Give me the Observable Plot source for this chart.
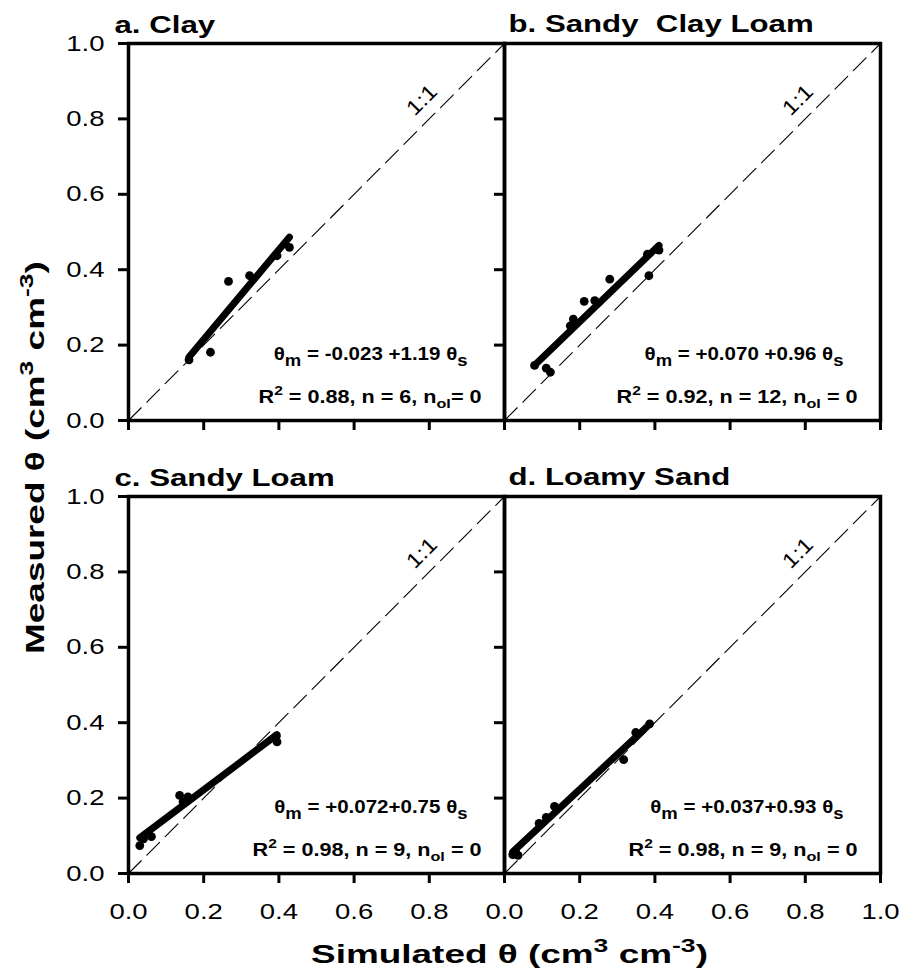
<!DOCTYPE html>
<html>
<head>
<meta charset="utf-8">
<script src="https://cdn.jsdelivr.net/npm/d3@7"></script>
<script src="https://cdn.jsdelivr.net/npm/@observablehq/plot@0.6"></script>
<style>
  html, body { margin: 0; padding: 0; background: #fff; }
  #chart svg { display: block; }
  #chart text { white-space: pre; }
</style>
</head>
<body>
<div id="chart"></div>
<script>
// ---------- data ----------
const panelNames = ["a. Clay", "b. Sandy  Clay Loam", "c. Sandy Loam", "d. Loamy Sand"];
const panelCols = [0, 1, 0, 1];
const panelRows = [0, 0, 1, 1];

const simClay = [0.161, 0.218, 0.266, 0.322, 0.395, 0.428];
const measClay = [0.161, 0.181, 0.369, 0.384, 0.437, 0.459];

const simSandyClayLoam = [0.080, 0.111, 0.122, 0.175, 0.183, 0.212, 0.240, 0.280, 0.384, 0.380, 0.405, 0.411];
const measSandyClayLoam = [0.146, 0.139, 0.128, 0.251, 0.269, 0.316, 0.318, 0.375, 0.384, 0.441, 0.455, 0.452];

const simSandyLoam = [0.030, 0.040, 0.061, 0.136, 0.145, 0.158, 0.160, 0.393, 0.395];
const measSandyLoam = [0.074, 0.092, 0.098, 0.207, 0.190, 0.203, 0.198, 0.364, 0.349];

const simLoamySand = [0.022, 0.030, 0.036, 0.092, 0.111, 0.133, 0.317, 0.349, 0.386];
const measLoamySand = [0.050, 0.056, 0.048, 0.133, 0.149, 0.178, 0.302, 0.374, 0.397];

const fitIntercepts = [-0.023, 0.070, 0.072, 0.037];
const fitSlopes = [1.19, 0.96, 0.75, 0.93];

const equationTexts = [
  "θ_{m} = -0.023 +1.19 θ_{s}",
  "θ_{m} = +0.070 +0.96 θ_{s}",
  "θ_{m} = +0.072+0.75 θ_{s}",
  "θ_{m} = +0.037+0.93 θ_{s}"
];
const statTexts = [
  "R^{2} = 0.88, n = 6, n_{ol}= 0",
  "R^{2} = 0.92, n = 12, n_{ol} = 0",
  "R^{2} = 0.98, n = 9, n_{ol} = 0",
  "R^{2} = 0.98, n = 9, n_{ol} = 0"
];

const axisTicks = [0, 0.2, 0.4, 0.6, 0.8, 1.0];
const bottomTickLabels = [[0, 0.2, 0.4, 0.6, 0.8], [0, 0.2, 0.4, 0.6, 0.8, 1.0]]; // panel c, panel d
const oneToOne = [0, 1];
const oneToOneLabel = "1:1";
const oneToOneLabelPos = [0.78, 0.85];
const xTitle = "Simulated θ (cm^{3} cm^{-3})";
const yTitle = "Measured θ (cm^{3} cm^{-3})";

// ---------- tables ----------
const simulated = [simClay, simSandyClayLoam, simSandyLoam, simLoamySand];
const measured = [measClay, measSandyClayLoam, measSandyLoam, measLoamySand];

const panels = panelNames.map((name, i) => ({
  name, col: panelCols[i], row: panelRows[i], eq: equationTexts[i], stat: statTexts[i]
}));
const points = panels.flatMap((p, i) =>
  simulated[i].map((s, j) => ({panel: p.name, col: p.col, row: p.row, sim: s, meas: measured[i][j]})));
const fits = panels.flatMap((p, i) =>
  d3.extent(simulated[i]).map(s => ({panel: p.name, col: p.col, row: p.row, sim: s, meas: fitIntercepts[i] + fitSlopes[i] * s})));
const bottomLabels = bottomTickLabels.flatMap((ticks, k) => ticks.map(v => ({col: k, row: 1, v})));

const fmt = d3.format(".1f");
const FONT = "Arial, 'Liberation Sans', Helvetica, sans-serif";

const plot = Plot.plot({
  width: 904,
  height: 976,
  marginLeft: 127,
  marginRight: 24,
  marginTop: 43,
  marginBottom: 103,
  style: {fontFamily: FONT, fontSize: "22px", color: "black", background: "white"},
  x: {domain: [0, 1]},
  y: {domain: [0, 1]},
  fx: {domain: [0, 1], paddingInner: 0, paddingOuter: 0, axis: null, label: null},
  fy: {domain: [0, 1], paddingInner: 0.168, paddingOuter: 0, axis: null, label: null},
  marks: [
    Plot.line(oneToOne, {x: d => d, y: d => d, stroke: "black", strokeWidth: 1.1, strokeDasharray: "18,8"}),
    Plot.line(fits, {x: "sim", y: "meas", z: "panel", fx: "col", fy: "row", stroke: "black", strokeWidth: 7, strokeLinecap: "round"}),
    Plot.dot(points, {x: "sim", y: "meas", fx: "col", fy: "row", r: 4.4, fill: "black", stroke: "none"}),
    Plot.text([oneToOneLabel], {x: () => oneToOneLabelPos[0], y: () => oneToOneLabelPos[1], text: d => d, rotate: -45, fontSize: 21, className: "s-oneone"}),
    Plot.frame({stroke: "black", strokeWidth: 3.5}),
    Plot.axisX({ticks: axisTicks, tickSize: 10, strokeWidth: 3, fill: "none", label: null, facetAnchor: null}),
    Plot.axisY({ticks: axisTicks, tickSize: 10, strokeWidth: 3, fill: "none", label: null, facetAnchor: null}),
    Plot.axisY({ticks: axisTicks, tickSize: 0, tickPadding: 24, tickFormat: fmt, fontSize: 22, stroke: "none", label: null, facetAnchor: "left", className: "s-tick"}),
    Plot.text(bottomLabels, {x: "v", fx: "col", fy: "row", frameAnchor: "bottom", lineAnchor: "top", dy: 30, text: d => fmt(d.v), fontSize: 22, className: "s-tick"}),
    Plot.text(panels.filter(p => p.col === 0), {fx: "col", fy: "row", frameAnchor: "top-left", textAnchor: "start", lineAnchor: "bottom", dx: -14, dy: -11, text: "name", fontSize: 24, fontWeight: "bold", className: "s-title"}),
    Plot.text(panels.filter(p => p.col === 1), {fx: "col", fy: "row", frameAnchor: "top-left", textAnchor: "start", lineAnchor: "bottom", dx: 4, dy: -12, text: "name", fontSize: 24, fontWeight: "bold", className: "s-title"}),
    Plot.text(panels, {fx: "col", fy: "row", frameAnchor: "bottom-right", textAnchor: "end", lineAnchor: "bottom", dx: -37, dy: -61, text: "eq", fontSize: 18, fontWeight: "bold", className: "s-eq"}),
    Plot.text(panels, {fx: "col", fy: "row", frameAnchor: "bottom-right", textAnchor: "end", lineAnchor: "bottom", dx: -23, dy: -18, text: "stat", fontSize: 18, fontWeight: "bold", className: "s-stat"}),
    Plot.text([{col: 0, row: 1, t: xTitle}], {fx: "col", fy: "row", frameAnchor: "bottom-right", textAnchor: "middle", lineAnchor: "bottom", dx: 5, dy: 89, text: "t", fontSize: 26, fontWeight: "bold", className: "s-axistitle"}),
    Plot.text([{col: 0, row: 0, t: yTitle}], {fx: "col", fy: "row", frameAnchor: "bottom-left", textAnchor: "middle", lineAnchor: "bottom", rotate: -90, dx: -85, dy: 37, text: "t", fontSize: 26, fontWeight: "bold", className: "s-axistitle"})
  ]
});

document.getElementById("chart").appendChild(plot);

// ---------- rich text: sub/superscripts ----------
const SVGNS = "http://www.w3.org/2000/svg";
plot.querySelectorAll("text").forEach(t => {
  const s = t.textContent;
  if (!/[_^]\{/.test(s)) return;
  const fs = parseFloat(getComputedStyle(t).fontSize) || 18;
  t.textContent = "";
  const re = /([_^])\{([^}]*)\}/g;
  let last = 0, m, pendingShift = 0;
  const add = (str, opts) => {
    const sp = document.createElementNS(SVGNS, "tspan");
    sp.textContent = str;
    let dy = -pendingShift;
    if (opts) {
      sp.setAttribute("font-size", opts.size);
      dy += opts.shift;
      pendingShift = opts.shift;
    } else pendingShift = 0;
    if (dy) sp.setAttribute("dy", dy);
    t.appendChild(sp);
  };
  while ((m = re.exec(s))) {
    if (m.index > last) add(s.slice(last, m.index));
    if (m[1] === "^") add(m[2], {size: fs * 0.72, shift: -fs * 0.42});
    else add(m[2], {size: m[2].length > 1 ? fs * 0.75 : fs * 0.9, shift: m[2].length > 1 ? fs * 0.3 : fs * 0.38});
    last = re.lastIndex;
  }
  if (last < s.length) add(s.slice(last));
});

// ---------- horizontal stretch of the text (wide lettering of the reference) ----------
const stretch = {"s-title": 1.3, "s-axistitle": 1.42, "s-tick": 1.25, "s-eq": 1.14, "s-stat": 1.2, "s-oneone": 1.15};
plot.querySelectorAll("text").forEach(t => {
  let k = 1;
  for (const c in stretch) if (t.closest("." + c)) k = stretch[c];
  if (k === 1) return;
  const L = t.getComputedTextLength();
  if (!(L > 0)) return;
  t.setAttribute("textLength", (L * k).toFixed(2));
  t.setAttribute("lengthAdjust", "spacingAndGlyphs");
});
</script>
</body>
</html>
